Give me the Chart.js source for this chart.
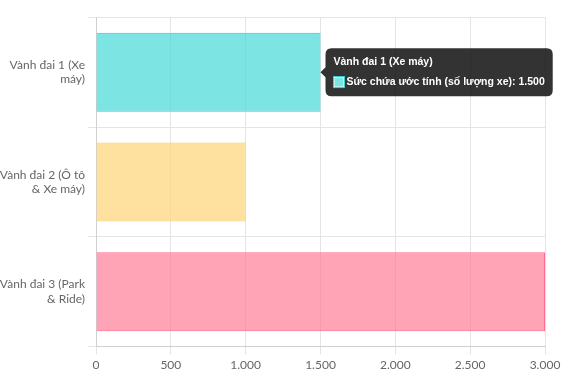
<!DOCTYPE html>
<html><head><meta charset="utf-8">
<script src="https://cdn.jsdelivr.net/npm/chart.js@4"></script>
<style>html,body{margin:0;padding:0;background:#fff}#wrap{width:562px;height:375px;position:relative}</style>
</head><body><div id="wrap"><canvas id="c"></canvas></div>
<script>
const categories = ["Vành đai 1 (Xe máy)", "Vành đai 2 (Ô tô & Xe máy)", "Vành đai 3 (Park & Ride)"];
const tickLines = [["Vành đai 1 (Xe", "máy)"], ["Vành đai 2 (Ô tô", "& Xe máy)"], ["Vành đai 3 (Park", "& Ride)"]];
const seriesLabel = "Sức chứa ước tính (số lượng xe)";
const capacity = [1500, 1000, 3000];
const fills = ["rgba(75,217,217,0.72)", "rgba(253,213,120,0.72)", "rgba(255,120,148,0.68)"];
const borders = ["rgba(60,205,205,1)", "rgba(250,205,110,1)", "rgba(255,110,140,1)"];

Chart.defaults.font.family = "Lato, 'Open Sans', sans-serif";
Chart.defaults.color = "#666";
const chart = new Chart(document.getElementById('c'), {
  type: 'bar',
  data: { labels: categories, datasets: [{ label: seriesLabel, data: capacity, backgroundColor: fills, borderColor: borders, hoverBackgroundColor: fills, hoverBorderColor: borders, borderWidth: 1 }] },
  options: {
    indexAxis: 'y', responsive: true, maintainAspectRatio: false, animation: false,
    locale: 'de-DE',
    layout: { padding: { top: 16, right: 0 } },
    plugins: {
      legend: { display: false },
      tooltip: {
        backgroundColor: 'rgba(0,0,0,0.8)',
        titleFont: { family: "'Liberation Sans', Arial, sans-serif", size: 10.5, weight: 'bold' },
        bodyFont: { family: "'Liberation Sans', Arial, sans-serif", size: 10.5, weight: 'bold' },
        padding: 8, caretSize: 5, caretPadding: 0, cornerRadius: 6, boxWidth: 11, boxHeight: 11, titleMarginBottom: 7
      }
    },
    scales: {
      x: { min: 0, max: 3000, afterFit: s => { s.paddingRight = 17; }, ticks: { stepSize: 500, font: { size: 12 } }, grid: { color: '#e4e4e4' }, border: { color: '#d0d0d0' } },
      y: {
        afterFit: s => { s.width = 96; },
        ticks: { font: { size: 12 }, callback: (v, i) => tickLines[i] },
        grid: { color: '#e4e4e4' }, border: { color: '#d0d0d0' }
      }
    }
  }
});
const m = chart.getDatasetMeta(0).data[0];
chart.tooltip.setActiveElements([{ datasetIndex: 0, index: 0 }], { x: m.x, y: m.y });
chart.update();
</script></body></html>
